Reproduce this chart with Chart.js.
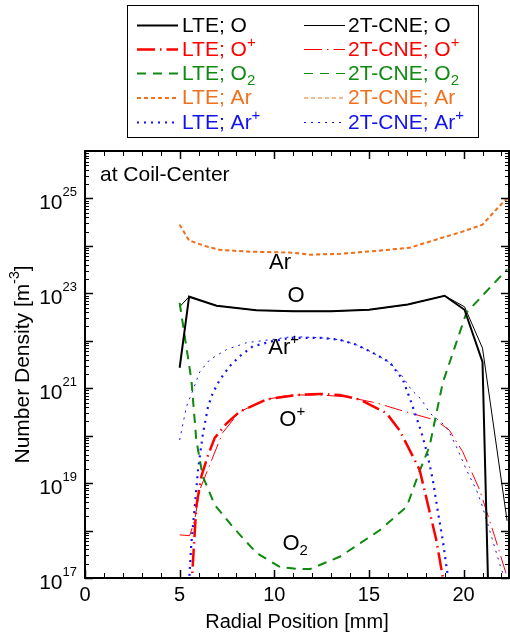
<!DOCTYPE html>
<html>
<head>
<meta charset="utf-8">
<script src="https://cdn.jsdelivr.net/npm/chart.js@4.4.0/dist/chart.umd.min.js"></script>
<style>
  html, body { margin: 0; padding: 0; background: #fff; }
  canvas { display: block; }
</style>
</head>
<body>
<canvas id="chart" width="510" height="641"></canvas>
<script>
// radial position [mm] / number density [m^-3]

// O
const rO_LTE = [5.0, 5.5, 6.95, 9.05, 11.0, 13.0, 15.0, 17.05, 19.0, 20.05, 21.0, 21.35];
const nO_LTE = [2.7e21, 8.5e22, 5.5e22, 4.4e22, 4.2e22, 4.2e22, 4.5e22, 5.8e22, 8.9e22, 4.5e22, 3.6e21, 1e16];
const rO_2T  = [5.0, 5.5, 6.95, 9.05, 11.0, 13.0, 15.0, 17.05, 19.0, 20.05, 21.0, 22.3];
const nO_2T  = [5.2e22, 8.5e22, 5.5e22, 4.4e22, 4.2e22, 4.2e22, 4.5e22, 5.8e22, 8.9e22, 5.2e22, 7.0e21, 1.6e18];

// O+
const rOp_LTE = [5.5, 5.88, 6.15, 6.5, 6.85, 7.47, 8.17, 9.58, 11.17, 12.4, 13.45, 14.5, 15.92, 16.62, 17.68, 18.56, 18.9, 19.2];
const nOp_LTE = [1e16, 3.2e18, 1.4e19, 3.9e19, 8.9e19, 1.8e20, 3.2e20, 5.8e20, 7.2e20, 7.6e20, 7.2e20, 5.8e20, 3.0e20, 1.3e20, 1.9e19, 6.3e17, 1.05e17, 1e16];
const rOp_2T  = [5.0, 5.53, 5.8, 6.06, 7.27, 8.17, 9.58, 10.8, 12.4, 13.8, 15.4, 16.6, 18.55, 19.25, 19.95, 20.85, 21.65, 22.3];
const nOp_2T  = [8.1e17, 7.8e17, 1.7e18, 7.2e18, 1.15e20, 3.2e20, 5.8e20, 7.2e20, 7.2e20, 6.6e20, 4.9e20, 3.5e20, 2.1e20, 1.3e20, 4.6e19, 7.2e18, 7.4e17, 1.05e17];

// O2
const rO2_LTE = [5.0, 5.62, 5.88, 6.22, 6.85, 7.8, 9.05, 10.3, 11.3, 11.9, 13.45, 15.55, 17.0, 17.7, 18.2, 18.9, 20.15, 22.3];
const nO2_LTE = [6.3e22, 1.5e21, 8.1e19, 1.4e19, 3.5e18, 1.2e18, 3.4e17, 1.7e17, 1.55e17, 1.55e17, 2.8e17, 1.0e18, 3.2e18, 1.9e19, 5.9e19, 1.3e21, 3.9e22, 3.2e23];
const rO2_2T  = [5.0, 5.62, 5.88, 6.22, 6.85, 7.8, 9.05, 10.3, 11.3, 11.9, 13.45, 15.55, 17.0, 17.7, 18.2, 18.9, 20.15, 22.3];
const nO2_2T  = [6.3e22, 1.5e21, 8.1e19, 1.4e19, 3.5e18, 1.2e18, 3.4e17, 1.7e17, 1.55e17, 1.55e17, 2.8e17, 1.0e18, 3.2e18, 1.9e19, 5.9e19, 1.3e21, 3.9e22, 3.2e23];

// Ar
const rAr_LTE = [5.0, 5.5, 6.4, 7.1, 8.5, 11.0, 11.9, 13.5, 15.0, 17.15, 18.9, 19.95, 21.0, 21.8, 22.3];
const nAr_LTE = [2.8e24, 1.3e24, 9.8e23, 8.3e23, 7.6e23, 7.2e23, 6.5e23, 6.8e23, 7.6e23, 9.1e23, 1.5e24, 2.0e24, 2.8e24, 6.3e24, 1.0e25];
const rAr_2T  = [5.0, 5.5, 6.4, 7.1, 8.5, 11.0, 11.9, 13.5, 15.0, 17.15, 18.9, 19.95, 21.0, 21.8, 22.3];
const nAr_2T  = [2.8e24, 1.3e24, 9.8e23, 8.3e23, 7.6e23, 7.2e23, 6.6e23, 6.9e23, 7.7e23, 9.2e23, 1.5e24, 2.0e24, 2.8e24, 6.3e24, 1.0e25];

// Ar+
const rArp_LTE = [5.45, 5.62, 5.8, 5.97, 6.23, 6.5, 6.75, 7.12, 7.64, 8.17, 8.86, 9.92, 10.81, 12.55, 13.45, 14.33, 15.2, 16.1, 16.8, 17.24, 17.77, 18.1, 18.37, 18.63, 18.9, 19.16, 19.4];
const nArp_LTE = [4e16, 5.5e17, 3.2e18, 1.9e19, 1.1e20, 4.1e20, 7.9e20, 1.5e21, 2.9e21, 4.7e21, 7.6e21, 9.8e21, 1.15e22, 1.15e22, 1.05e22, 8.3e21, 5.6e21, 3.5e21, 1.5e21, 5.0e20, 1.2e20, 3.9e19, 1.2e19, 2.7e18, 6.3e17, 1.15e17, 3.2e16];
const rArp_2T  = [5.0, 5.36, 5.71, 6.06, 6.59, 7.47, 8.53, 9.76, 10.97, 12.55, 13.45, 14.33, 15.2, 16.1, 16.8, 17.24, 17.77, 18.21, 19.09, 19.62, 20.15, 20.68, 21.0, 21.38, 22.0, 22.3];
const nArp_2T  = [8.1e19, 4.1e20, 9.3e20, 2.2e21, 4.0e21, 6.5e21, 9.1e21, 1.05e22, 1.23e22, 1.15e22, 1.05e22, 8.3e21, 5.6e21, 3.5e21, 1.7e21, 9.3e20, 5.8e20, 3.0e20, 1.55e20, 5.9e19, 1.9e19, 7.2e18, 3.2e18, 1.0e18, 1.5e17, 8e16];

// axes
const xMin = 0, xMax = 22.4;
const yMin = 1e17, yMax = 1e26;
const yLabelExps = [17, 19, 21, 23, 25];

// curve labels inside the plot (data coordinates)
const curveLabels = [
  { parts: ['Ar'], x: 10.3, y: 10 ** 23.64 },
  { parts: ['O'], x: 11.15, y: 10 ** 22.94 },
  { parts: ['Ar', ['+', 'sup']], x: 10.5, y: 10 ** 21.85 },
  { parts: ['O', ['+', 'sup']], x: 10.95, y: 10 ** 20.33 },
  { parts: ['O', ['2', 'sub']], x: 11.1, y: 10 ** 17.72 }
];

const FONT = '"Liberation Sans", Arial, Helvetica, sans-serif';
const RED = '#ff0000', GREEN = '#118a11', ORANGE = '#f0701e', BLUE = '#1212ee';

function pts(r, n) { return r.map((x, i) => ({ x, y: n[i] })); }

function series(label, parts, r, n, color, width, dash) {
  return {
    label, legendParts: parts, data: pts(r, n),
    borderColor: color, backgroundColor: color, borderWidth: width, borderDash: dash,
    pointRadius: 0, fill: false, tension: 0, borderCapStyle: 'butt'
  };
}

const dashO = [], dashOp = [18, 5, 1.5, 5], dashO2 = [9, 7], dashAr = [4, 3], dashArp = [2, 5];

const lteSets = [
  series('LTE; O', ['LTE; O'], rO_LTE, nO_LTE, '#000', 2, dashO),
  series('LTE; O+', ['LTE; O', ['+', 'sup']], rOp_LTE, nOp_LTE, RED, 2.5, dashOp),
  series('LTE; O2', ['LTE; O', ['2', 'sub']], rO2_LTE, nO2_LTE, GREEN, 2, dashO2),
  series('LTE; Ar', ['LTE; Ar'], rAr_LTE, nAr_LTE, ORANGE, 2, dashAr),
  series('LTE; Ar+', ['LTE; Ar', ['+', 'sup']], rArp_LTE, nArp_LTE, BLUE, 2.2, dashArp)
];
const cneSets = [
  series('2T-CNE; O', ['2T-CNE; O'], rO_2T, nO_2T, '#000', 1, dashO),
  series('2T-CNE; O+', ['2T-CNE; O', ['+', 'sup']], rOp_2T, nOp_2T, RED, 1, dashOp),
  series('2T-CNE; O2', ['2T-CNE; O', ['2', 'sub']], rO2_2T, nO2_2T, GREEN, 1, dashO2),
  series('2T-CNE; Ar', ['2T-CNE; Ar'], rAr_2T, nAr_2T, ORANGE, 1, dashAr),
  series('2T-CNE; Ar+', ['2T-CNE; Ar', ['+', 'sup']], rArp_2T, nArp_2T, BLUE, 1, dashArp)
];

// text with super/subscripts
function drawRich(ctx, parts, x, y, size, color, align, opt) {
  opt = opt || {};
  const small = opt.small || Math.round(size * 0.7);
  const supDy = opt.supDy != null ? opt.supDy : -size * 0.34;
  const subDy = opt.subDy != null ? opt.subDy : size * 0.3;
  const segs = parts.map(p => typeof p === 'string' ? { t: p, k: 'n' } : { t: p[0], k: p[1] });
  let w = 0;
  segs.forEach(s => {
    s.sz = s.k === 'n' ? size : small;
    ctx.font = s.sz + 'px ' + FONT;
    s.w = ctx.measureText(s.t).width;
    w += s.w;
  });
  let cx = align === 'center' ? x - w / 2 : align === 'right' ? x - w : x;
  ctx.fillStyle = color;
  ctx.textBaseline = 'middle';
  ctx.textAlign = 'left';
  segs.forEach(s => {
    ctx.font = s.sz + 'px ' + FONT;
    const dy = s.k === 'sup' ? supDy : s.k === 'sub' ? subDy : 0;
    ctx.fillText(s.t, cx, y + dy);
    cx += s.w;
  });
}

function seg(ctx, x1, y1, x2, y2) {
  ctx.beginPath(); ctx.moveTo(x1, y1); ctx.lineTo(x2, y2); ctx.stroke();
}

const framePlugin = {
  id: 'frame',
  afterDatasetsDraw(chart) {
    const { ctx, chartArea: a, scales: { x, y } } = chart;
    ctx.save();
    ctx.setLineDash([]);
    ctx.strokeStyle = '#000';
    // ticks, inward on all four sides
    for (let v = 0; v <= xMax + 1e-9; v += 1) {
      const px = Math.round(x.getPixelForValue(v)) + 0.5;
      const major = v % 5 === 0;
      ctx.lineWidth = major ? 1.5 : 1;
      const L = major ? 8 : 5;
      seg(ctx, px, a.bottom, px, a.bottom - L);
      seg(ctx, px, a.top, px, a.top + L);
    }
    for (let e = 17; e < 26; e++) {
      for (let m = 1; m < 10; m++) {
        const py = Math.round(y.getPixelForValue(m * 10 ** e)) + 0.5;
        const major = m === 1;
        ctx.lineWidth = major ? 1.5 : 1;
        const L = major ? 8 : 4;
        seg(ctx, a.left, py, a.left + L, py);
        seg(ctx, a.right, py, a.right - L, py);
      }
    }
    ctx.lineWidth = 2;
    ctx.strokeRect(a.left, a.top, a.right - a.left, a.bottom - a.top);

    // y tick labels 10^n
    yLabelExps.forEach(e => {
      const py = y.getPixelForValue(10 ** e);
      drawRich(ctx, ['10', [String(e), 'sup']], a.left - 8, py + 5, 21, '#000', 'right', { small: 13, supDy: -11 });
    });

    // axis titles
    drawRich(ctx, ['Radial Position [mm]'], (a.left + a.right) / 2, 622, 20, '#000', 'center');
    ctx.save();
    ctx.translate(23, (a.top + a.bottom) / 2);
    ctx.rotate(-Math.PI / 2);
    drawRich(ctx, ['Number Density [m', ['-3', 'sup'], ']'], 0, 0, 21, '#000', 'center', { small: 14, supDy: -8 });
    ctx.restore();

    // in-plot text
    drawRich(ctx, ['at Coil-Center'], a.left + 15, a.top + 24, 21, '#000', 'left');
    curveLabels.forEach(l => {
      drawRich(ctx, l.parts, x.getPixelForValue(l.x), y.getPixelForValue(l.y), 22, '#000', 'center', { small: 15, supDy: -8, subDy: 7 });
    });

    // legend box
    ctx.fillStyle = '#fff';
    ctx.fillRect(127, 5, 351, 132);
    ctx.lineWidth = 1;
    ctx.strokeStyle = '#000';
    ctx.strokeRect(127.5, 5.5, 351, 132);
    const rows = [25, 49, 73, 97.5, 122];
    const cols = [{ x1: 137, x2: 178, tx: 182, sets: lteSets }, { x1: 304, x2: 345, tx: 348, sets: cneSets }];
    cols.forEach(c => {
      c.sets.forEach((ds, i) => {
        const yy = rows[i];
        ctx.strokeStyle = ds.borderColor;
        ctx.lineWidth = ds.borderWidth;
        ctx.setLineDash(ds.borderDash);
        seg(ctx, c.x1, yy + 0.5, c.x2, yy + 0.5);
        ctx.setLineDash([]);
        drawRich(ctx, ds.legendParts, c.tx, yy + 1, 21, ds.borderColor, 'left', { small: 15, supDy: -7, subDy: 7 });
      });
    });
    ctx.restore();
  }
};

new Chart(document.getElementById('chart'), {
  type: 'line',
  data: { datasets: lteSets.concat(cneSets) },
  options: {
    responsive: false,
    animation: false,
    devicePixelRatio: 1,
    layout: { padding: { top: 151, right: 1, left: 0, bottom: 0 } },
    plugins: { legend: { display: false }, tooltip: { enabled: false } },
    scales: {
      x: {
        type: 'linear', min: xMin, max: xMax,
        grid: { display: false, drawTicks: false },
        border: { display: false },
        ticks: { stepSize: 5, includeBounds: false, padding: 5, color: '#000', font: { size: 20, family: FONT }, maxRotation: 0 },
        afterFit(s) { s.height = 63; }
      },
      y: {
        type: 'logarithmic', min: yMin, max: yMax,
        grid: { display: false, drawTicks: false },
        border: { display: false },
        ticks: { display: false },
        afterFit(s) { s.width = 85; }
      }
    }
  },
  plugins: [framePlugin]
});
</script>
</body>
</html>
